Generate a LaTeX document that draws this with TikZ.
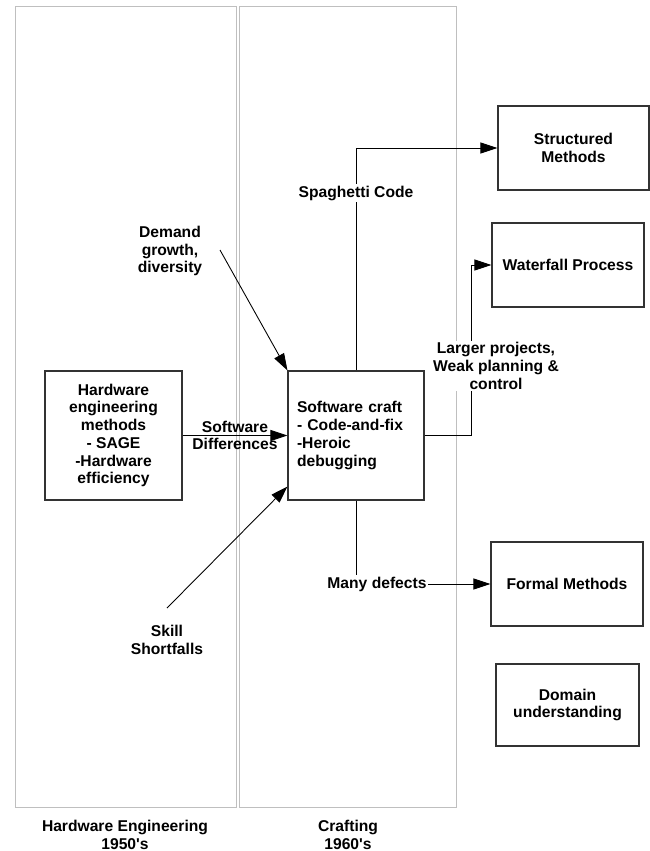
\documentclass[tikz,border=0pt]{standalone}
\usepackage{fontspec}
\setmainfont{Liberation Sans}
\usetikzlibrary{arrows.meta}

\begin{document}
\begin{tikzpicture}[
                    every node/.style={font=\fontsize{8.9}{10.1}\selectfont\bfseries,align=center},
                    box/.style={draw=black!80,line width=0.6pt,minimum height=1.68cm},
                    lab/.style={fill=white,inner sep=1pt},
                    lane/.style={draw=black!25,line width=0.5pt},
                    flow/.style={line width=0.5pt,-{Triangle[length=0.34cm,width=0.22cm]}}
                ]
                    \useasboundingbox (0,0) rectangle (13,-17.02);
                    \draw [lane] (0.3,-0.12) rectangle (4.72,-16.14);
                    \draw [lane] (4.78,-0.12) rectangle (9.12,-16.14);
                    \node (hwera) at (2.5,-16.7) {Hardware Engineering\\1950\textquotesingle s};
                    \node (craftera) at (6.96,-16.7) {Crafting\\1960\textquotesingle s};
                    \node [box,minimum width=2.74cm,minimum height=2.58cm] (hw) at (2.27,-8.71)
                        {Hardware\\engineering\\methods\\- SAGE\\-Hardware\\efficiency};
                    \node [box,minimum width=2.72cm,minimum height=2.58cm,text width=2.36cm,align=left,inner sep=0.18cm] (craft) at (7.12,-8.71)
                        {Software craft\\- Code-and-fix\\-Heroic\\debugging};
                    \node [box,minimum width=3.02cm] (structured) at (11.47,-2.96) {Structured\\Methods};
                    \node [box,minimum width=3.04cm] (waterfall) at (11.36,-5.3) {Waterfall Process};
                    \node [box,minimum width=3.04cm] (formal) at (11.34,-11.68) {Formal Methods};
                    \node [box,minimum width=2.86cm,minimum height=1.64cm] (domain) at (11.35,-14.1) {Domain\\understanding};
                    \node (demand) at (3.4,-5.02) {Demand\\growth,\\diversity};
                    \node (skill) at (3.34,-12.8) {Skill\\Shortfalls};
                    \coordinate (demandtail) at (4.4,-5.0);
                    \coordinate (skilltail) at (3.34,-12.16);
                    \draw [flow] (hw.east) -- (craft.west);
                    \node (diff) at (4.7,-8.71) {Software\\Differences};
                    \draw [flow] (demandtail) -- (craft.north west);
                    \draw [flow] (skilltail) -- ([yshift=0.28cm]craft.south west);
                    \draw [flow] (craft.north) |- (structured.west);
                    \draw [flow] (craft.east) -- ++(0.94,0) |- (waterfall.west);
                    \draw [flow] (craft.south) |- (formal.west);
                    \node [lab] (spaghetti) at (7.12,-3.86) {Spaghetti Code};
                    \node [lab] (larger) at (9.92,-7.32) {Larger projects,\\Weak planning \&\\control};
                    \node [lab] (defects) at (7.54,-11.68) {Many defects};
                \end{tikzpicture}
\end{document}
